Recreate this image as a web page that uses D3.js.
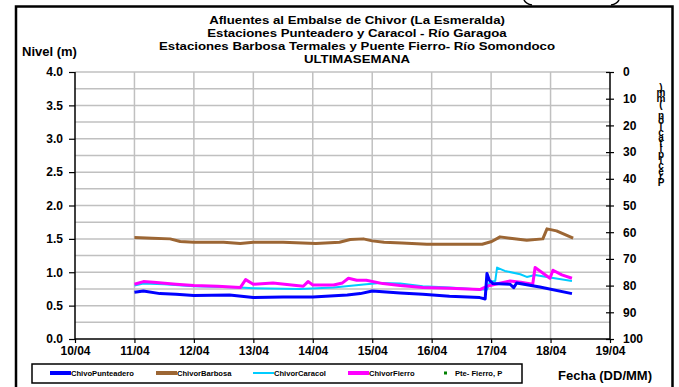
<!DOCTYPE html>
<html><head><meta charset="utf-8">
<script src="https://cdn.jsdelivr.net/npm/d3@7"></script>
<style>
body{margin:0;background:#fff;}
text{font-family:"Liberation Sans",Arial,sans-serif;font-weight:bold;fill:#000;}
</style></head>
<body><svg id="c" width="679" height="387"></svg>
<script>
// ---- data ----
const dayTicks = [10,11,12,13,14,15,16,17,18,19];
const dayLabels = ["10/04","11/04","12/04","13/04","14/04","15/04","16/04","17/04","18/04","19/04"];
const nivelTicks = [0,0.5,1,1.5,2,2.5,3,3.5,4];
const precTicks = [0,10,20,30,40,50,60,70,80,90,100];

const barbosaT = [11.0,11.3,11.6,11.77,12.0,12.5,12.78,13.0,13.5,14.05,14.45,14.63,14.85,15.0,15.2,15.5,15.92,16.3,16.65,16.85,17.01,17.15,17.32,17.6,17.87,17.94,18.1,18.38];
const barbosaV = [1.52,1.51,1.50,1.46,1.45,1.45,1.43,1.45,1.45,1.43,1.45,1.49,1.50,1.47,1.45,1.44,1.42,1.42,1.42,1.42,1.46,1.53,1.51,1.48,1.50,1.65,1.62,1.51];

const caracolT = [11.0,11.15,11.5,12.0,12.5,12.78,13.0,13.78,14.35,14.9,15.13,15.47,15.85,16.3,16.81,16.93,16.98,17.07,17.1,17.23,17.49,17.6,17.74,17.99,18.36];
const caracolV = [0.80,0.83,0.82,0.79,0.78,0.77,0.76,0.75,0.77,0.82,0.84,0.83,0.79,0.77,0.74,0.74,0.86,0.87,1.07,1.02,0.97,0.93,0.96,0.92,0.87];

const fierroT = [11.0,11.15,11.32,11.7,12.0,12.4,12.78,12.87,13.0,13.33,13.84,13.92,14.0,14.35,14.5,14.6,14.74,14.9,15.18,15.47,15.85,16.3,16.81,16.93,17.07,17.32,17.5,17.7,17.74,17.99,18.04,18.19,18.36];
const fierroV = [0.82,0.86,0.85,0.82,0.80,0.79,0.77,0.89,0.82,0.84,0.79,0.86,0.81,0.81,0.84,0.91,0.88,0.88,0.83,0.80,0.77,0.76,0.74,0.79,0.82,0.87,0.85,0.82,1.07,0.91,1.03,0.96,0.91];

const punteaderoT = [11.0,11.15,11.43,11.7,12.0,12.6,13.0,13.5,14.0,14.58,14.8,15.0,15.47,15.85,16.3,16.81,16.9,16.93,16.97,17.03,17.32,17.38,17.43,17.82,18.36];
const punteaderoV = [0.70,0.72,0.68,0.67,0.65,0.66,0.62,0.63,0.63,0.66,0.68,0.72,0.69,0.67,0.64,0.62,0.60,0.98,0.88,0.83,0.82,0.77,0.84,0.78,0.68];

const precipT = [];
const precipV = [];

const titleLines = ["Afluentes al Embalse de Chivor (La Esmeralda)","Estaciones Punteadero y Caracol - Río Garagoa","Estaciones Barbosa Termales y Puente Fierro- Río Somondoco","ULTIMASEMANA"];
const legendNames = ["ChivoPunteadero","ChivorBarbosa","ChivorCaracol","ChivorFierro","Pte- Fierro, P"];
const precipLabel = "Precipitación (mm)";

// ---- drawing ----
const svg = d3.select("#c");
const L=75,R=610,T=72,B=339;
const x = d3.scaleLinear().domain([10,19]).range([L,R]);
const y = d3.scaleLinear().domain([0,4]).range([B,T]);
const y2 = d3.scaleLinear().domain([0,100]).range([T,B]);

// frame
svg.append("path").attr("d",`M16,387 V6.5 H672.5 V387`).attr("fill","none").attr("stroke","#000").attr("stroke-width",2.5);
svg.append("path").attr("d","M524,0 Q526,4 532,5").attr("fill","none").attr("stroke","#000").attr("stroke-width",1.5);
svg.append("path").attr("d","M619,0 Q617,4 611,5").attr("fill","none").attr("stroke","#000").attr("stroke-width",1.5);

// grid
const gridY = d3.range(0.25,4.001,0.25);
svg.append("g").selectAll("line").data(gridY).join("line")
  .attr("x1",L).attr("x2",R).attr("y1",d=>y(d)).attr("y2",d=>y(d))
  .attr("stroke","#c0c0c0").attr("stroke-width",1.5);
svg.append("g").selectAll("line").data(dayTicks.slice(1,-1)).join("line")
  .attr("x1",d=>x(d)).attr("x2",d=>x(d)).attr("y1",T).attr("y2",B)
  .attr("stroke","#c0c0c0").attr("stroke-width",1.5);

// axes
const axL = svg.append("g").attr("transform",`translate(${L},0)`)
  .call(d3.axisLeft(y).tickValues(nivelTicks).tickFormat(d3.format(".1f")).tickSize(6).tickPadding(6));
const axR = svg.append("g").attr("transform",`translate(${R},0)`)
  .call(d3.axisRight(y2).tickValues(precTicks).tickSize(4).tickPadding(9));
axR.selectAll(".tick line").attr("x1",-4).attr("x2",4);
const axB = svg.append("g").attr("transform",`translate(0,${B})`)
  .call(d3.axisBottom(x).tickValues(dayTicks).tickFormat((d,i)=>dayLabels[i]).tickSize(4).tickPadding(3));
[axL,axR,axB].forEach(a=>{
  a.select(".domain").attr("stroke","#000").attr("stroke-width",1.5);
  a.selectAll(".tick line").attr("stroke","#000").attr("stroke-width",1.2);
  a.selectAll("text").style("font-family","'Liberation Sans',Arial,sans-serif").style("font-weight","bold").attr("font-size",12).attr("fill","#000");
});
axB.select(".domain").attr("d",`M${L},0H${R}`);
axL.select(".domain").attr("d",`M0,${T}V${B}`);
axR.select(".domain").attr("d",`M0,${T}V${B}`);

// series
const line = d3.line().x(d=>x(d[0])).y(d=>y(d[1]));
const series = [
  {t:barbosaT,v:barbosaV,c:"#9c6634",w:3},
  {t:caracolT,v:caracolV,c:"#00ccff",w:2},
  {t:fierroT,v:fierroV,c:"#ff00ff",w:3},
  {t:punteaderoT,v:punteaderoV,c:"#0000ff",w:3}
];
series.forEach(s=>{
  svg.append("path").datum(d3.zip(s.t,s.v)).attr("d",line)
    .attr("fill","none").attr("stroke",s.c).attr("stroke-width",s.w).attr("stroke-linejoin","round");
});
svg.append("g").selectAll("rect").data(d3.zip(precipT,precipV)).join("rect")
  .attr("x",d=>x(d[0])-1.5).attr("y",d=>y2(d[1])-1.5).attr("width",3).attr("height",3).attr("fill","#008000");

// titles (slightly stretched horizontally, tight line spacing as in the reference)
svg.append("g").attr("transform","translate(357,0) scale(1.16,1)")
  .selectAll("text").data(titleLines).join("text")
  .attr("x",0).attr("y",(d,i)=>24.5+i*13).attr("text-anchor","middle").attr("font-size",11.4).text(d=>d);
svg.append("text").attr("x",22).attr("y",56).attr("font-size",13).text("Nivel (m)");
// stacked vertical label (glyphs upright, read bottom to top)
const pChars = precipLabel.split("");
svg.append("text").attr("font-size",10).attr("text-anchor","middle")
  .attr("x",pChars.map(()=>661).join(" "))
  .attr("y",pChars.map((c,i)=>186 - i*5.6).join(" "))
  .text(precipLabel);
svg.append("text").attr("x",652).attr("y",380).attr("text-anchor","end").attr("font-size",13).text("Fecha (DD/MM)");

// legend
svg.append("rect").attr("x",32).attr("y",364).attr("width",490).attr("height",19).attr("fill","none").attr("stroke","#000").attr("stroke-width",1.5);
const legColors = ["#0000ff","#9c6634","#00ccff","#ff00ff"];
const legX = [50,156,253,348];
legX.forEach((lx,i)=>{
  svg.append("line").attr("x1",lx).attr("x2",lx+21).attr("y1",373).attr("y2",373)
    .attr("stroke",legColors[i]).attr("stroke-width",i===2?2:4);
  svg.append("text").attr("x",lx+21).attr("y",376).attr("font-size",7.6).text(legendNames[i]);
});
svg.append("rect").attr("x",444).attr("y",371.5).attr("width",3).attr("height",3).attr("fill","#008000");
svg.append("text").attr("x",455).attr("y",376).attr("font-size",7.6).text(legendNames[4]);
</script></body></html>
